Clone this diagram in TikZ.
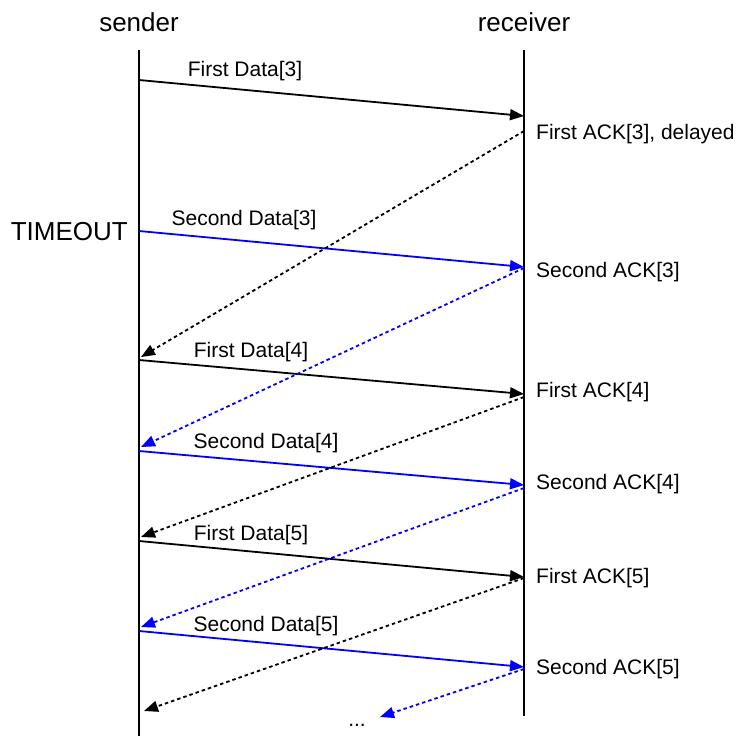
\documentclass[tikz,border=0pt]{standalone}
\usepackage{fontspec}
\setmainfont{Liberation Sans}
\usetikzlibrary{
  arrows.meta, % Triangle arrow tips
  positioning  % relative placement
}

\begin{document}
\begin{tikzpicture}[x=1pt, y=-1pt,
  lane/.style={line width=2pt},
  msg/.style={line width=1.8pt, -{Triangle[length=14pt, width=11pt]}},
  ack/.style={msg, dash pattern=on 3.5pt off 3pt},
  lbl/.style={inner sep=0pt, font=\fontsize{21}{25}\selectfont},
  head/.style={inner sep=0pt, font=\fontsize{26}{31}\selectfont}]
  \def\xs{139}
  \def\xr{524}
  \useasboundingbox (0,0) rectangle (736,736);

  % two parties and their lifelines
  \node[head] (snd) at (\xs, 22) {sender};
  \node[head] (rcv) at (\xr, 22) {receiver};
  \coordinate (stop) at (\xs, 50);
  \coordinate (sbot) at (\xs, 736);
  \coordinate (rtop) at (\xr, 50);
  \coordinate (rbot) at (\xr, 716);
  \draw[lane] (stop) -- (sbot);
  \draw[lane] (rtop) -- (rbot);
  \node[head, anchor=east] (tmo) at (128, 232) {TIMEOUT};

  % end points of the data messages (sender -> receiver)
  \coordinate (d1s) at (\xs, 80);  \coordinate (d1r) at (\xr, 116);
  \coordinate (d2s) at (\xs, 231); \coordinate (d2r) at (\xr, 267);
  \coordinate (d3s) at (\xs, 360); \coordinate (d3r) at (\xr, 394);
  \coordinate (d4s) at (\xs, 451); \coordinate (d4r) at (\xr, 485);
  \coordinate (d5s) at (\xs, 541); \coordinate (d5r) at (\xr, 577);
  \coordinate (d6s) at (\xs, 631); \coordinate (d6r) at (\xr, 667);

  % end points of the acks (receiver -> sender)
  \coordinate (a1r) at (\xr, 131); \coordinate (a1s) at (141, 357);
  \coordinate (a2r) at (\xr, 268); \coordinate (a2s) at (141, 447);
  \coordinate (a3r) at (\xr, 397); \coordinate (a3s) at (141, 537);
  \coordinate (a4r) at (\xr, 488); \coordinate (a4s) at (141, 627);
  \coordinate (a5r) at (\xr, 578); \coordinate (a5s) at (144, 711);
  \coordinate (a6r) at (\xr, 669); \coordinate (a6s) at (380, 717);

  % data messages
  \draw[msg] (d1s) -- (d1r);
  \draw[msg, blue] (d2s) -- (d2r);
  \draw[msg] (d3s) -- (d3r);
  \draw[msg, blue] (d4s) -- (d4r);
  \draw[msg] (d5s) -- (d5r);
  \draw[msg, blue] (d6s) -- (d6r);

  % acks
  \draw[ack] (a1r) -- (a1s);
  \draw[ack, blue] (a2r) -- (a2s);
  \draw[ack] (a3r) -- (a3s);
  \draw[ack, blue] (a4r) -- (a4s);
  \draw[ack] (a5r) -- (a5s);
  \draw[ack, blue] (a6r) -- (a6s);

  % message labels
  \node[lbl] (l1) at (245, 71)  {First Data[3]};
  \node[lbl] (l2) at (244, 220) {Second Data[3]};
  \node[lbl] (l3) at (251, 352) {First Data[4]};
  \node[lbl] (l4) at (266, 443) {Second Data[4]};
  \node[lbl] (l5) at (251, 535) {First Data[5]};
  \node[lbl] (l6) at (266, 626) {Second Data[5]};

  \node[lbl, anchor=west] (k1) at (536, 134) {First ACK[3], delayed};
  \node[lbl, anchor=west] (k2) at (536, 272) {Second ACK[3]};
  \node[lbl, anchor=west] (k3) at (536, 392) {First ACK[4]};
  \node[lbl, anchor=west] (k4) at (536, 484) {Second ACK[4]};
  \node[lbl, anchor=west] (k5) at (536, 578) {First ACK[5]};
  \node[lbl, anchor=west] (k6) at (536, 669) {Second ACK[5]};

  \node[lbl] (more) at (357, 725) {...};
\end{tikzpicture}
\end{document}
